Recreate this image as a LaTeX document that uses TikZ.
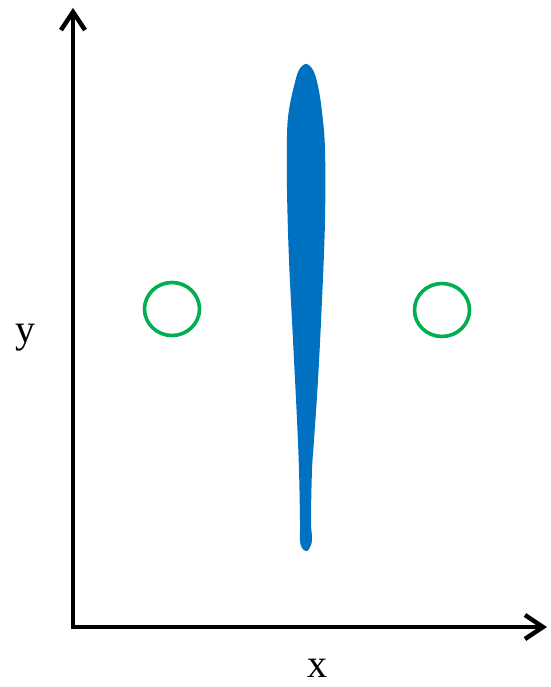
\documentclass[tikz,border=0pt]{standalone}
\usepackage{fontspec}
\setmainfont{Liberation Serif}
\usetikzlibrary{arrows.meta}
\definecolor{fillblue}{HTML}{0070C0}
\definecolor{ringgreen}{HTML}{00B050}
\tikzset{
  axisline/.style={line width=4.5pt, line join=miter,
    arrows={Straight Barb[length=18pt,width=24pt,line width=4.5pt]-Straight Barb[length=18pt,width=24pt,line width=4.5pt]}},
  ring/.style={draw=ringgreen, line width=3.6pt},
  axislabel/.style={font=\fontsize{40}{48}\selectfont, inner sep=0pt}
}
\begin{document}
\begin{tikzpicture}[x=1pt,y=-1pt]
\useasboundingbox (0,0) rectangle (550,687);
\coordinate (ytop) at (73,8);
\coordinate (O) at (73,627);
\coordinate (xend) at (547,627);
\draw[axisline] (ytop) -- (O) -- (xend);
\node[axislabel, anchor=base] (ylab) at (25,342) {y};
\node[axislabel, anchor=base] (xlab) at (317,677) {x};
\draw[ring] (172,309) ellipse [x radius=27.5, y radius=26.5];
\draw[ring] (442,310) ellipse [x radius=27.5, y radius=26.5];
\fill[fillblue] plot[smooth cycle, tension=0.6] coordinates {
  (306,64) (313,70) (318,86) (322,112) (325,150) (325,220) (322,300)
  (318,380) (314,440) (312,470) (311,520) (312,540) (309,549) (306,551)
  (302,548) (300,540) (300,520) (299,470) (297,420) (293,340) (289,260)
  (287,190) (287,135) (289,110) (294,86) (299,70)
};
\end{tikzpicture}
\end{document}
